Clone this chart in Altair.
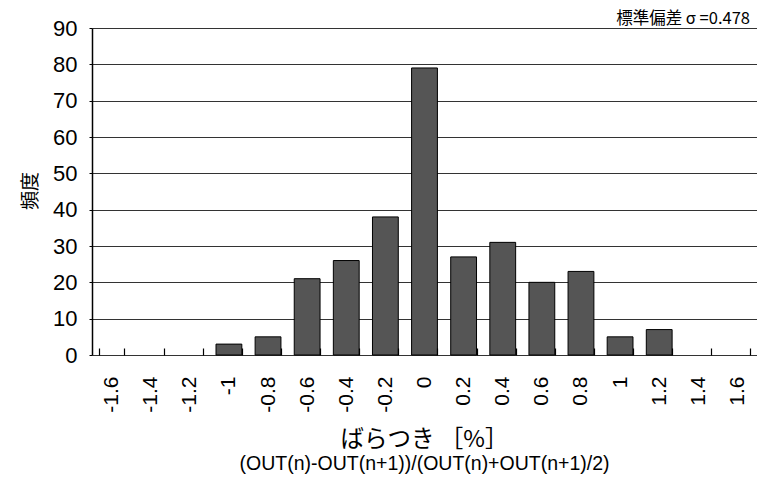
import altair as alt
import pandas as pd

categories = ["-1.6", "-1.4", "-1.2", "-1", "-0.8", "-0.6", "-0.4", "-0.2", "0",
              "0.2", "0.4", "0.6", "0.8", "1", "1.2", "1.4", "1.6"]
counts = [0, 0, 0, 3, 5, 21, 26, 38, 79, 27, 31, 20, 23, 5, 7, 0, 0]
y_ticks = [0, 10, 20, 30, 40, 50, 60, 70, 80, 90]

title_text = "標準偏差 σ =0.478"
x_title = "ばらつき ［%］"
x_subtitle = "(OUT(n)-OUT(n+1))/(OUT(n)+OUT(n+1)/2)"
y_title = "頻度"

FONT = "'Liberation Sans', Arial, 'Noto Sans CJK JP', sans-serif"
JP = "'Noto Sans CJK JP', sans-serif"

W, H = 665, 327
PAD_L, PAD_T, PAD_R, PAD_B = 84, 20, 0, 119

df = pd.DataFrame({"bin": categories, "count": counts})

bars = alt.Chart(df).transform_filter(alt.datum["count"] > 0).mark_bar(
    color="#555555", stroke="#000000", strokeWidth=1
).encode(
    x=alt.X("bin:N", sort=categories,
            scale=alt.Scale(domain=categories, paddingInner=0.34, paddingOuter=0.17),
            axis=alt.Axis(title=None, labelAngle=-90, labelFontSize=21, labelFont=FONT,
                          labelColor="#000", tickBand="extent", offset=-7, tickSize=7,
                          tickColor="#000", tickWidth=1.2, domain=False, labelPadding=21,
                          grid=False, zindex=1)),
    y=alt.Y("count:Q", scale=alt.Scale(domain=[0, 90], nice=False),
            axis=alt.Axis(title=None, values=y_ticks, tickSize=3, tickColor="#000",
                          labelFontSize=22, labelFont=FONT, labelColor="#000", labelPadding=12,
                          domainColor="#000", domainWidth=1.5,
                          grid=True, gridColor="#333", gridWidth=1)),
)

def txt(s, x, y, size, font, align="center", angle=0):
    return alt.Chart(pd.DataFrame({"t": [s]})).mark_text(
        align=align, baseline="middle", fontSize=size, font=font, color="#000", angle=angle
    ).encode(text="t:N", x=alt.value(x), y=alt.value(y))

t_title = txt(title_text, W - 7, -9, 16.5, JP, align="right")
t_x = txt(x_title, W / 2, 412, 23.5, JP)
t_sub = txt(x_subtitle, W / 2, 436, 19.5, FONT)
t_y = txt(y_title, -61, 163, 19, JP, angle=270)

chart = alt.layer(bars, t_title, t_x, t_sub, t_y).properties(
    width=W, height=H,
    autosize=alt.AutoSizeParams(type="none"),
    padding={"left": PAD_L, "top": PAD_T, "right": PAD_R, "bottom": PAD_B},
).configure_view(stroke="#999", strokeWidth=1.5).configure(background="white")

chart.save("out.html", embed_options={"renderer": "svg", "actions": False})
